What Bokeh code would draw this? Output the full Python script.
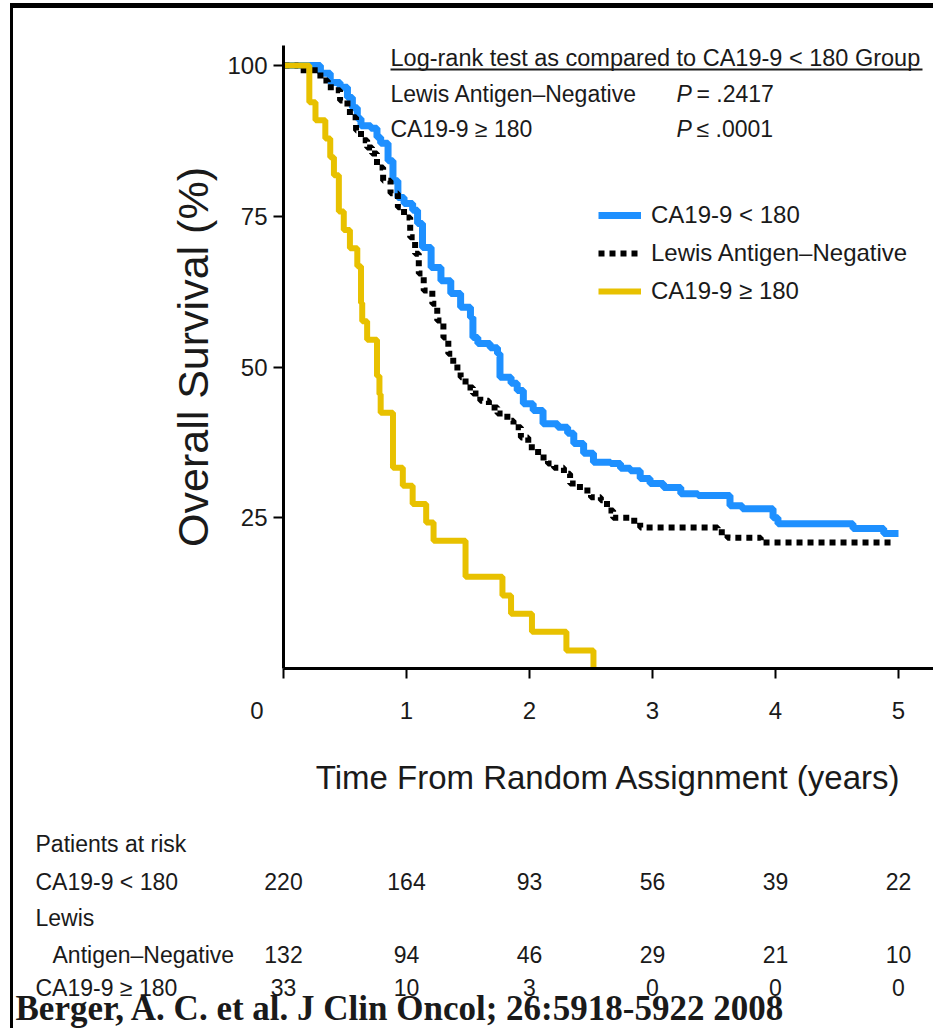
from bokeh.plotting import figure
from bokeh.layouts import column
from bokeh.models import (Range1d, FixedTicker, Label, Legend, LegendItem, Arrow,
                          ColumnDataSource)
from bokeh.embed import file_html
from bokeh.resources import INLINE

# ---------------- data ----------------
low_t = [0, 0.22, 0.30, 0.38, 0.46, 0.52, 0.56, 0.60, 0.63, 0.71, 0.76, 0.79, 0.85, 0.89, 0.93,
         0.98, 1.05, 1.09, 1.13, 1.20, 1.28, 1.36, 1.44, 1.52, 1.54, 1.58, 1.68, 1.74, 1.76, 1.85,
         1.90, 1.95, 2.03, 2.11, 2.23, 2.31, 2.36, 2.44, 2.52, 2.66, 2.74, 2.82, 2.90, 2.98, 3.09,
         3.23, 3.37, 3.63, 3.73, 3.98, 4.02, 4.63, 4.88, 5.0]
low_s = [100, 100, 98.7, 97.2, 96.4, 94.7, 93.0, 91.2, 90.0, 89.6, 88.1, 87.1, 84.2, 80.9, 78.1,
         77.1, 76.0, 73.8, 69.8, 66.5, 64.3, 62.2, 59.9, 58.2, 54.9, 53.9, 53.2, 52.2, 48.3, 47.3,
         46.1, 43.9, 42.8, 40.6, 40.0, 39.0, 37.3, 35.7, 34.2, 34.0, 33.2, 32.8, 31.5, 30.7, 30.0,
         29.0, 28.7, 27.0, 26.5, 25.0, 24.0, 23.2, 22.4, 22.4]

lewis_t = [0, 0.12, 0.30, 0.36, 0.41, 0.46, 0.52, 0.54, 0.59, 0.63, 0.68, 0.72, 0.76, 0.81, 0.87,
           0.93, 0.98, 1.03, 1.07, 1.10, 1.14, 1.21, 1.25, 1.30, 1.34, 1.38, 1.44, 1.48, 1.54, 1.60,
           1.67, 1.74, 1.82, 1.87, 1.93, 1.99, 2.07, 2.15, 2.20, 2.28, 2.33, 2.41, 2.50, 2.58, 2.63,
           2.68, 2.82, 2.90, 3.53, 3.61, 3.88, 4.96]
lewis_s = [100, 99.2, 97.5, 96.4, 95.9, 94.2, 93.0, 91.4, 89.2, 87.6, 86.4, 85.4, 83.1, 80.9, 78.8,
           76.5, 74.8, 71.5, 68.8, 65.5, 62.7, 60.5, 57.7, 54.9, 52.2, 49.9, 48.3, 46.6, 45.6, 44.4,
           43.3, 42.3, 41.1, 40.0, 38.3, 36.7, 35.0, 34.0, 33.3, 32.3, 30.7, 29.5, 28.4, 27.9, 26.2,
           25.0, 24.5, 23.4, 22.6, 21.7, 20.9, 20.9]

high_t = [0, 0.21, 0.26, 0.34, 0.38, 0.41, 0.45, 0.49, 0.54, 0.60, 0.63, 0.64, 0.68, 0.76, 0.78,
          0.79, 0.89, 0.97, 1.05, 1.16, 1.22, 1.48, 1.78, 1.85, 2.02, 2.30, 2.52]
high_s = [100, 93.9, 90.9, 87.9, 84.8, 81.8, 75.8, 72.7, 69.7, 66.7, 60.6, 57.6, 54.5, 48.5, 45.5,
          42.4, 33.3, 30.3, 27.3, 24.2, 21.2, 15.2, 12.1, 9.1, 6.1, 3.0, 0]

series_names = ["CA19-9 < 180", "Lewis Antigen\u2013Negative", "CA19-9 \u2265 180"]

risk_years = [0, 1, 2, 3, 4, 5]
risk_low = [220, 164, 93, 56, 39, 22]
risk_lewis = [132, 94, 46, 29, 21, 10]
risk_high = [33, 10, 3, 0, 0, 0]

x_ticks = [0, 1, 2, 3, 4, 5]
y_ticks = [25, 50, 75, 100]

# ---------------- layout helpers (reference pixel -> data) ----------------
PX_PER_YEAR = 123.0
PX_PER_PCT = 6.03
X0_PX, Y0_PX = 283.0, 668.0
OX, OY = 13, 8          # where the bordered block starts on the page
SPLIT = 812             # page row where the risk table block begins
W = 933 - OX
H_MAIN = SPLIT - OY
H_TAB = 1028 - SPLIT


def tx(X):
    return (X - X0_PX) / PX_PER_YEAR


def ty(Y):
    return (Y0_PX - Y) / PX_PER_PCT


SANS = "Liberation Sans"
SERIF = "Liberation Serif"
BLUE = "#1E90FF"
GOLD = "#E8C100"
TXT = "#1a1a1a"

# ---------------- main plot ----------------
p = figure(width=W, height=H_MAIN, output_backend="svg", toolbar_location=None,
           x_range=Range1d(0, tx(933)), y_range=Range1d(0, ty(45)),
           min_border_left=int(X0_PX - OX), min_border_right=0, min_border_top=45 - OY,
           min_border_bottom=H_MAIN - (668 - OY))
p.xgrid.visible = False
p.ygrid.visible = False
p.outline_line_color = None

for ax in (p.xaxis[0], p.yaxis[0]):
    ax.axis_line_width = 3
    ax.axis_line_color = "black"
    ax.major_tick_line_width = 2
    ax.major_tick_out = 10
    ax.major_tick_in = 0
    ax.minor_tick_out = 0
    ax.minor_tick_in = 0
    ax.major_label_text_font = SANS
    ax.major_label_text_font_size = "24px"
    ax.major_label_text_color = TXT
    ax.axis_label_text_font = SANS
    ax.axis_label_text_font_style = "normal"
    ax.axis_label_text_color = TXT

p.xaxis.ticker = FixedTicker(ticks=x_ticks)
p.yaxis.ticker = FixedTicker(ticks=y_ticks)
# the origin label sits left of the corner in the original
p.xaxis.major_label_overrides = {0: "0\u2007\u2007\u2007\u2007"}
p.xaxis.axis_label = "Time From Random Assignment (years)"
p.yaxis.axis_label = "Overall Survival (%)"
p.xaxis.axis_label_text_font_size = "33px"
p.yaxis.axis_label_text_font_size = "43px"
p.xaxis.major_label_standoff = 18
p.xaxis.axis_label_standoff = 32
p.yaxis.major_label_standoff = 6
p.yaxis.axis_label_standoff = 7

r_low = p.step(low_t, low_s, mode="after", line_color=BLUE, line_width=7)
r_lewis = p.step(lewis_t, lewis_s, mode="after", line_color="black", line_width=6,
                 line_dash="6 5")
r_high = p.step(high_t, high_s, mode="after", line_color=GOLD, line_width=6)

legend = Legend(items=[LegendItem(label=series_names[0], renderers=[r_low]),
                       LegendItem(label=series_names[1], renderers=[r_lewis]),
                       LegendItem(label=series_names[2], renderers=[r_high])],
                location=(598 - 283, 362), glyph_width=43, glyph_height=30, label_height=30,
                label_standoff=10, spacing=8, padding=0, margin=0,
                border_line_color=None, background_fill_alpha=0,
                label_text_font=SANS, label_text_font_size="24px", label_text_color=TXT)
p.add_layout(legend)


def lab(fig, X, Y, text, size="23px", font=SANS, align="left", style="normal",
        baseline="middle"):
    fig.add_layout(Label(x=tx(X), y=ty(Y), text=text, text_font=font, text_font_size=size,
                         text_align=align, text_baseline=baseline, text_font_style=style,
                         text_color=TXT))


# log-rank annotation
lab(p, 390, 57, "Log-rank test as compared to CA19-9 < 180 Group", size="23.5px")
p.add_layout(Arrow(end=None, start=None, x_start=tx(390), y_start=ty(69), x_end=tx(922),
                   y_end=ty(69), line_width=2, line_color=TXT))
lab(p, 390, 93, "Lewis Antigen\u2013Negative")
lab(p, 676, 93, "P", style="italic")
lab(p, 696, 93, "= .2417")
lab(p, 390, 128, "CA19-9 \u2265 180")
lab(p, 676, 128, "P", style="italic")
lab(p, 696, 128, "\u2264 .0001")

# ---------------- patients-at-risk table (separate root, same year scale) ----------------
t = figure(width=W, height=H_TAB, output_backend="svg", toolbar_location=None,
           x_range=Range1d(tx(OX), tx(933)), y_range=Range1d(ty(1028), ty(SPLIT)),
           x_axis_location=None, y_axis_location=None, min_border=0)
t.outline_line_color = None
t.grid.visible = False

lab(t, 35, 843, "Patients at risk")
lab(t, 35, 881, series_names[0])
lab(t, 35, 917, "Lewis")
lab(t, 52, 954, "Antigen\u2013Negative")
lab(t, 35, 987, series_names[2])
for Yrow, vals in ((881, risk_low), (954, risk_lewis), (987, risk_high)):
    src = ColumnDataSource(dict(x=risk_years, y=[ty(Yrow)] * len(vals),
                                s=[str(v) for v in vals]))
    t.text(x="x", y="y", text="s", source=src, text_align="center", text_baseline="middle",
           text_font={"value": SANS}, text_font_size="23px", text_color=TXT)

lab(t, 15, 1008, "Berger, A. C. et al. J Clin Oncol; 26:5918-5922 2008", size="35px",
    font=SERIF, style="bold", baseline="middle")

top_block = column(p, spacing=0,
                   styles={"border-left": "3px solid black", "border-top": "5px solid black",
                           "margin-left": "10px", "margin-top": "3px"})
bottom_block = column(t, spacing=0,
                      styles={"border-left": "3px solid black", "margin-left": "10px"})

open("out.html", "w").write(file_html([top_block, bottom_block], INLINE))
